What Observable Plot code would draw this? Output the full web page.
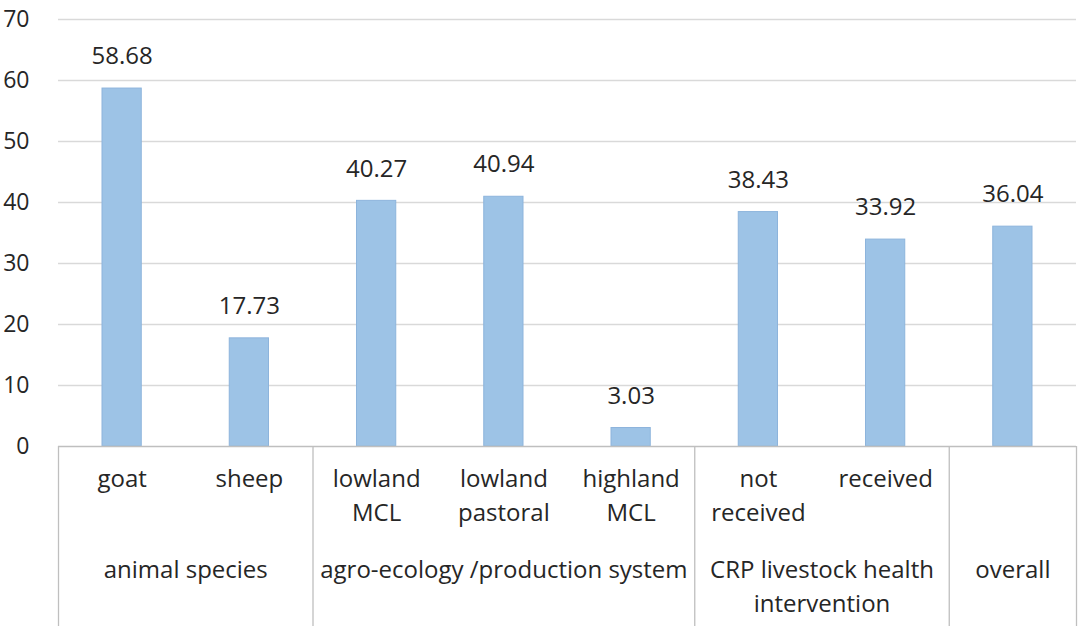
<!DOCTYPE html>
<html>
<head>
<meta charset="utf-8">
<script src="https://cdn.jsdelivr.net/npm/d3@7"></script>
<script src="https://cdn.jsdelivr.net/npm/@observablehq/plot@0.6"></script>
<style>
  html, body { margin: 0; padding: 0; background: #fff; }
</style>
</head>
<body>
<div id="chart"></div>
<script>
// ---- data ----
const categories = ["goat", "sheep", "lowland\nMCL", "lowland\npastoral", "highland\nMCL", "not\nreceived", "received", ""];
const values = [58.68, 17.73, 40.27, 40.94, 3.03, 38.43, 33.92, 36.04];
const valueLabels = ["58.68", "17.73", "40.27", "40.94", "3.03", "38.43", "33.92", "36.04"];
const groups = ["animal species", "agro-ecology /production system", "CRP livestock health\nintervention", "overall"];
const groupSizes = [2, 3, 2, 1];
const yTicks = [0, 10, 20, 30, 40, 50, 60, 70];

// ---- derived tables ----
const bars = categories.map((c, i) => ({i, label: c, value: values[i], text: valueLabels[i]}));
let start = 0;
const groupRows = groups.map((g, k) => {
  const row = {label: g, start, end: start + groupSizes[k]};
  start += groupSizes[k];
  return row;
});
const boundaries = [0, ...groupRows.map(g => g.end)];

const textColor = "#262626";
const font = "Open Sans";

const chart = Plot.plot({
  width: 1084,
  height: 630,
  marginLeft: 58,
  marginRight: 8,
  marginTop: 19,
  marginBottom: 184,
  style: {fontFamily: font, fontSize: "24px", color: textColor, background: "#fff"},
  x: {domain: [0, categories.length], axis: null},
  y: {domain: [0, 70], ticks: yTicks},
  marks: [
    Plot.gridY(yTicks.filter(t => t > 0), {stroke: "#d9d9d9", strokeOpacity: 1, strokeWidth: 1.3}),
    Plot.axisY(yTicks, {tickSize: 0, tickPadding: 29, fontSize: 23, fill: textColor, label: null}),
    Plot.rectY(bars, {
      x1: d => d.i, x2: d => d.i + 1, y: "value",
      insetLeft: 44, insetRight: 44,
      fill: "#9dc3e6", stroke: "#8db4dc", strokeWidth: 1
    }),
    Plot.text(bars, {
      x: d => d.i + 0.5, y: "value", text: "text",
      dy: -32, lineAnchor: "middle", fontSize: 24, fill: textColor
    }),
    Plot.ruleY([0], {stroke: "#bfbfbf", strokeWidth: 1.3}),
    Plot.ruleX(boundaries, {x: d => d, y1: 0, y2: 0, insetBottom: -180, stroke: "#bfbfbf", strokeWidth: 1.3}),
    Plot.text(bars, {
      x: d => d.i + 0.5, y: 0, text: "label",
      dy: 16, lineAnchor: "top", lineHeight: 1.42, fontSize: 24, fill: textColor
    }),
    Plot.text(groupRows, {
      x: d => (d.start + d.end) / 2, y: 0, text: "label",
      dy: 107, lineAnchor: "top", lineHeight: 1.42, fontSize: 24, fill: textColor
    })
  ]
});

document.getElementById("chart").appendChild(chart);
</script>
</body>
</html>
